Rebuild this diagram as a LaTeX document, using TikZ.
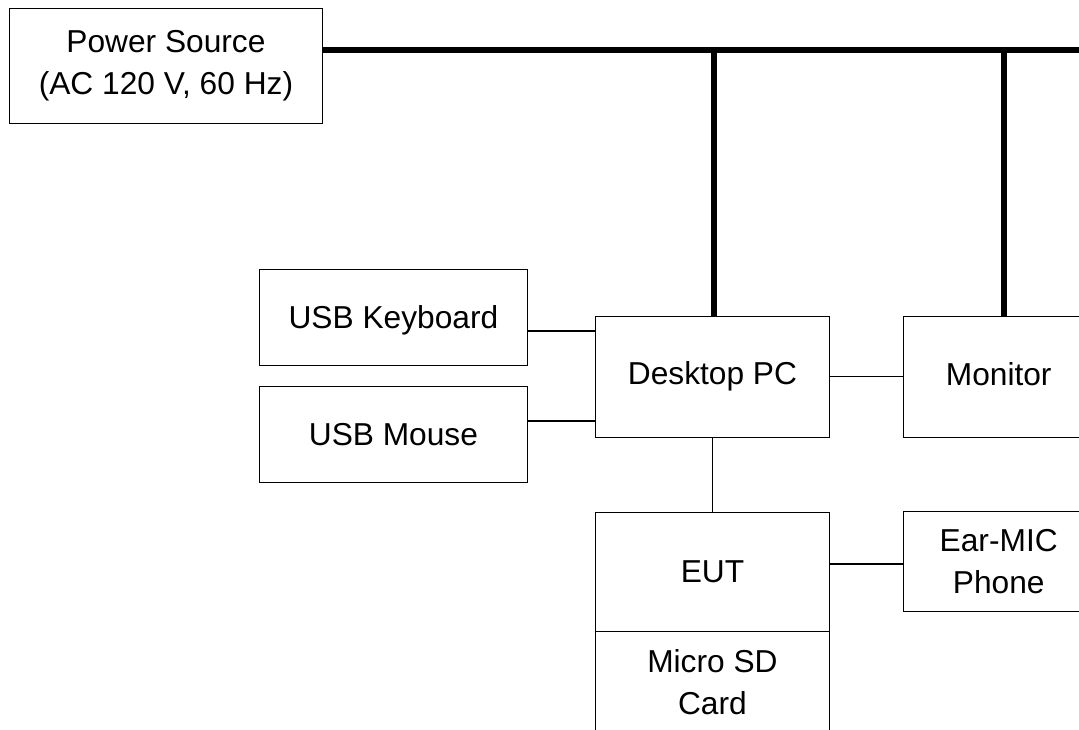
\documentclass[tikz,border=0pt]{standalone}
\usepackage{fontspec}
\setmainfont{Liberation Sans}
\begin{document}
\begin{tikzpicture}[x=1pt,y=-1pt,
 box/.style={draw=black,line width=1.4pt,fill=white,inner sep=0pt,align=center,font=\fontsize{31.7}{42}\selectfont,anchor=north west},
 thin line/.style={line width=1.4pt},
 power/.style={line width=6pt}]
\useasboundingbox[fill=white] (0,0) rectangle (1079,729);
\begin{scope}
\clip (0,0) rectangle (1079,729);
\node[box,minimum width=312.5pt,minimum height=115pt] (ps) at (9,7.5) {Power Source\\(AC 120 V, 60 Hz)};
\node[box,minimum width=267.5pt,minimum height=96pt] (kb) at (259,268.5) {\raisebox{-4pt}[22pt][7pt]{USB Keyboard}};
\node[box,minimum width=267.5pt,minimum height=96pt] (ms) at (259,385.5) {USB Mouse};
\node[box,minimum width=233.5pt,minimum height=121pt] (pc) at (595,315.5) {Desktop PC};
\node[box,minimum width=190pt,minimum height=121pt] (mon) at (903,315.5) {\raisebox{-1pt}[22pt][7pt]{Monitor}};
\node[box,minimum width=233.5pt,minimum height=119pt] (eut) at (595,512) {EUT};
\node[box,minimum width=233.5pt,minimum height=100pt] (sd) at (595,631) {Micro SD\\Card};
\node[box,minimum width=190pt,minimum height=100pt] (ear) at (903,511) {Ear-MIC\\Phone};
\coordinate (busend) at (1079,49.5);
\coordinate (b1) at (713.5,49.5);
\coordinate (b2) at (1003.5,49.5);
\draw[power] (ps.east |- busend) -- (busend);
\draw[power] (b1) -- (b1 |- pc.north);
\draw[power] (b2) -- (b2 |- mon.north);
\coordinate (k) at (0,331);
\coordinate (m) at (0,421);
\draw[thin line] (kb.east |- k) -- (pc.west |- k);
\draw[thin line] (ms.east |- m) -- (pc.west |- m);
\draw[thin line] (pc.east) -- (mon.west);
\draw[thin line] (pc.south) -- (eut.north);
\coordinate (e) at (0,564);
\draw[thin line] (eut.east |- e) -- (ear.west |- e);
\end{scope}
\end{tikzpicture}
\end{document}
